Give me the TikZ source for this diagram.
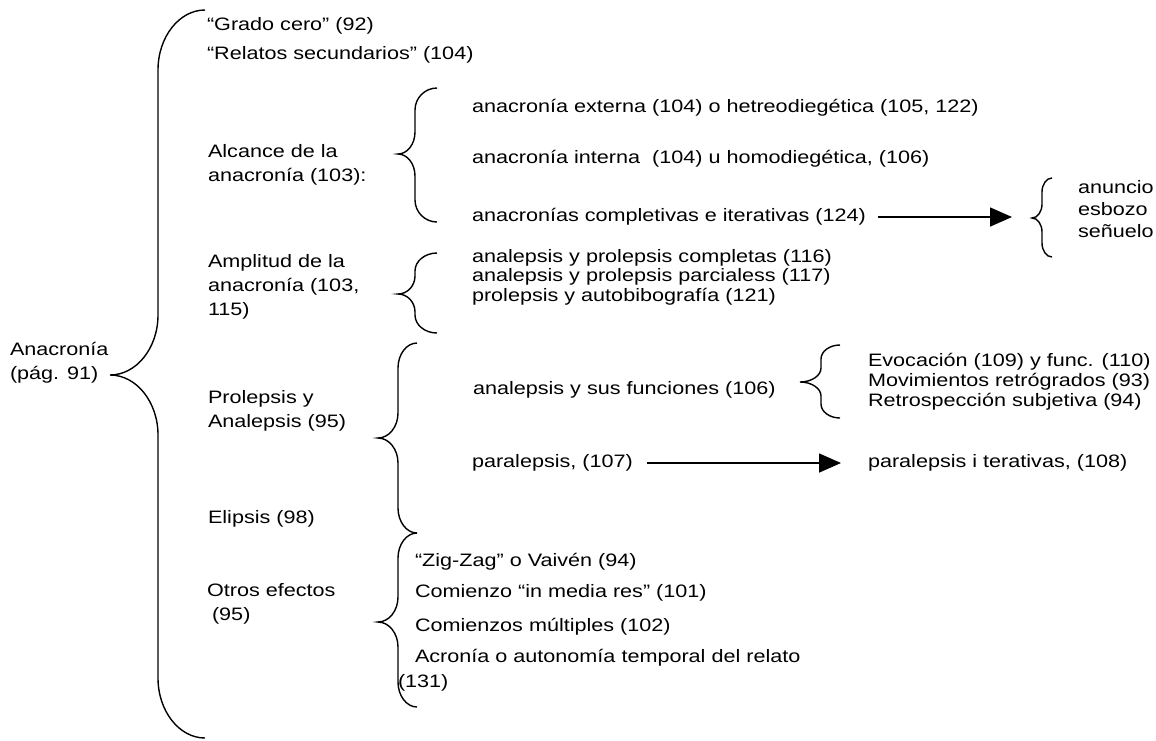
\documentclass[tikz,border=0pt]{standalone}
\usepackage{fontspec}
\setmainfont{Liberation Sans}[FakeStretch=1.2]
\usetikzlibrary{arrows.meta}
\newcommand{\wordbrace}[7]{% #1 xe, #2 xl, #3 xt, #4 yt, #5 ym, #6 yb, #7 r
  \draw[bracestyle] (#1,#4) .. controls ({#1-0.55*(#1-#2)},#4) and (#2,{#4+0.45*#7}) .. (#2,{#4+#7})
  -- (#2,{#5-#7}) .. controls (#2,{#5-0.45*#7}) and ({#3+0.55*(#2-#3)},#5) .. (#3,#5)
  .. controls ({#3+0.55*(#2-#3)},#5) and (#2,{#5+0.45*#7}) .. (#2,{#5+#7})
  -- (#2,{#6-#7}) .. controls (#2,{#6-0.45*#7}) and ({#1-0.55*(#1-#2)},#6) .. (#1,#6);}
\tikzset{
  txt/.style={anchor=west, inner sep=0pt, outer sep=0pt, align=left, font=\fontsize{18}{24}\selectfont},
  listtxt/.style={txt, font=\fontsize{18}{19.5}\selectfont},
  bracestyle/.style={line width=1.4pt, black},
  arr/.style={line width=1.6pt, -{Triangle[length=22pt,width=19pt]}}
}
\begin{document}
\begin{tikzpicture}[x=1pt,y=-1pt]
\fill[white] (0,0) rectangle (1156,740);
\useasboundingbox (0,0) rectangle (1156,740);
% root
\node[txt] (anac) at (10,363) {Anacronía\\(pág. 91)};
\wordbrace{205}{158}{110}{10}{375}{738}{60}
% first level
\node[txt] (g1) at (207,26) {“Grado cero” (92)};
\node[txt] (g2) at (207,55) {“Relatos secundarios” (104)};
\node[txt] (alc) at (208,165) {Alcance de la\\anacronía (103):};
\node[txt] (amp) at (208,287) {Amplitud de la\\anacronía (103,\\115)};
\node[txt] (prol) at (208,411) {Prolepsis y\\Analepsis (95)};
\node[txt] (elip) at (208,519) {Elipsis (98)};
\node[txt] (otros) at (207,604) {Otros efectos\\\hspace*{0.28em}(95)};
% alcance
\wordbrace{437}{415}{398}{88}{154}{222}{22}
\node[txt] (ext) at (472,108) {anacronía externa (104) o hetreodiegética (105, 122)};
\node[txt] (int) at (472,159) {anacronía interna\ \ (104) u homodiegética, (106)};
\node[txt] (comp) at (472,217) {anacronías completivas e iterativas (124)};
\coordinate (a1end) at (1012,217);
\draw[arr] ([xshift=12pt]comp.east) -- (a1end);
\wordbrace{1052}{1042}{1032}{178}{218}{257}{14}
\node[txt, font=\fontsize{18}{22}\selectfont] (anun) at (1078,209) {anuncio\\esbozo\\señuelo};
% amplitud
\wordbrace{437}{415}{398}{253}{294}{333}{18}
\node[listtxt] (ampl) at (472,277) {analepsis y prolepsis completas (116)\\analepsis y prolepsis parcialess (117)\\prolepsis y autobibografía (121)};
% prolepsis y analepsis
\wordbrace{417}{398}{378}{343}{438}{533}{25}
\node[txt] (anfun) at (473,390) {analepsis y sus funciones (106)};
\wordbrace{840}{821}{800}{345}{382}{418}{14}
\node[txt, font=\fontsize{18}{20}\selectfont] (evo) at (868,382) {Evocación (109) y func. (110)\\Movimientos retrógrados (93)\\Retrospección subjetiva (94)};
\node[txt] (para) at (472,463) {paralepsis, (107)};
\node[txt] (parait) at (868,463) {paralepsis i terativas, (108)};
\draw[arr] ([xshift=14pt]para.east) -- ([xshift=-27pt]parait.west);
% otros efectos
\wordbrace{417}{398}{378}{533}{622}{707}{25}
\node[txt] (z1) at (415,562) {“Zig-Zag” o Vaivén (94)};
\node[txt] (z2) at (415,593) {Comienzo “in media res” (101)};
\node[txt] (z3) at (415,627) {Comienzos múltiples (102)};
\node[txt] (z4) at (415,658) {Acronía o autonomía temporal del relato};
\node[txt] (z5) at (398,683) {(131)};
\end{tikzpicture}
\end{document}
